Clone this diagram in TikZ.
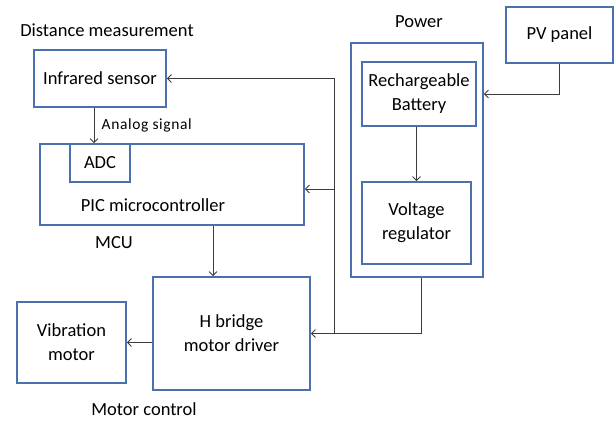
\documentclass[tikz,border=0pt]{standalone}
\usepackage{fontspec}
\setmainfont{Carlito}
\usetikzlibrary{arrows.meta}
\definecolor{boxblue}{HTML}{4A71AE}
\definecolor{wire}{HTML}{3C3C3C}
\tikzset{
  block/.style={draw=boxblue, line width=1.8pt, align=center, inner sep=0pt},
  link/.style={draw=wire, line width=0.8pt, -{Straight Barb[length=4pt,width=8pt]}},
  caption/.style={inner sep=0pt}
}
\begin{document}
\begin{tikzpicture}[x=1pt,y=-1pt,font=\fontsize{18.5}{24}\selectfont]
\useasboundingbox (0,0) rectangle (615,421);

% sensing and MCU
\node[block, minimum width=132pt, minimum height=57pt] (sensor) at (100,78.5) {Infrared sensor};
\node[block, minimum width=264pt, minimum height=81pt] (pic) at (172,184.5) {};
\node[block, minimum width=60pt, minimum height=38pt] (adc) at (100,163) {ADC};
\node[caption] (pictext) at (153,205) {PIC microcontroller};

% power
\node[block, minimum width=132pt, minimum height=234pt] (power) at (417,160) {};
\node[block, minimum width=107pt, minimum height=56pt] (pv) at (559.5,35) {PV panel};
\node[block, minimum width=114pt, minimum height=64pt] (bat) at (419,94) {Rechargeable\\Battery};
\node[block, minimum width=109pt, minimum height=82pt] (vreg) at (416.5,223) {Voltage\\regulator};

% motor
\node[block, minimum width=157pt, minimum height=113pt] (hb) at (231.5,333.5) {H bridge\\motor driver};
\node[block, minimum width=109pt, minimum height=81pt] (vib) at (71.5,342.5) {Vibration\\motor};

% group captions
\node[caption] (distcap) at (107,30) {Distance measurement};
\node[caption] (powcap) at (419,22) {Power};
\node[caption] (mcucap) at (114,243) {MCU};
\node[caption] (motcap) at (144,409) {Motor control};

% connectors
\draw[link] ([xshift=-6pt]sensor.south) -- ([xshift=-6pt]sensor.south |- pic.north)
  node[midway, right=4pt, font=\fontsize{15.5}{18}\selectfont\addfontfeatures{LetterSpace=4}] (analog) {Analog signal};
\coordinate (drv) at (213,0);
\draw[link] (pic.south -| drv) -- (hb.north -| drv);
\draw[link] (hb.west |- vib.east) -- (vib.east);
\draw[link] (pv.south) |- (power.east |- bat.east);
\draw[link] (vreg.north |- bat.south) -- (vreg.north);
\draw[link] ([xshift=4pt]power.south) |- (hb.east);
\coordinate (bus) at (334,333.5);
\draw[link] (bus) |- (sensor.east);
\draw[link] ([yshift=-4.5pt]bus |- pic.east) -- ([yshift=-4.5pt]pic.east);
\end{tikzpicture}
\end{document}
